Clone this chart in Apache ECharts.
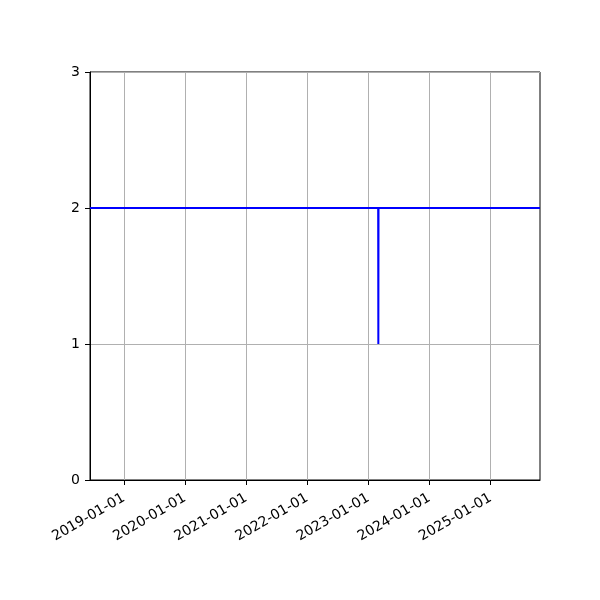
<!DOCTYPE html>
<html>
<head>
<meta charset="utf-8">
<script src="https://cdn.jsdelivr.net/npm/echarts@6/dist/echarts.min.js"></script>
<style>
  html, body { margin: 0; padding: 0; background: #fff; }
  #chart { width: 600px; height: 600px; }
</style>
</head>
<body>
<div id="chart"></div>
<script>
// x range of the axes
const xMin = '2018-06-13'
const xMax = '2025-10-23'

// ticks on the date axis
const tickDates = ['2019-01-01', '2020-01-01', '2021-01-01', '2022-01-01', '2023-01-01', '2024-01-01', '2025-01-01']

// the series: flat at 2 with a one-day drop to 1 early in 2023
const dates = ['2018-06-13', '2023-03-01', '2023-03-02', '2023-03-03', '2025-10-23']
const values = [2, 2, 1, 2, 2]

const yTicks = [0, 1, 2, 3]

const toTime = s => +new Date(s + 'T00:00:00')
const pad = n => (n < 10 ? '0' : '') + n
const fmtDate = v => {
    const d = new Date(v)
    return d.getFullYear() + '-' + pad(d.getMonth() + 1) + '-' + pad(d.getDate())
}

const tickTimes = tickDates.map(toTime)
const seriesData = dates.map((d, i) => [toTime(d), values[i]])

const font = 'DejaVu Sans'
var myChart = echarts.init(document.getElementById('chart'))

var option = {
    animation: false,
    backgroundColor: '#fff',
    grid: {
        left: 90,
        right: 60,
        top: 72,
        bottom: 120,
        show: true,
        borderColor: '#000',
        borderWidth: 1,
        backgroundColor: 'transparent'
    },
    xAxis: {
        type: 'value',
        min: toTime(xMin),
        max: toTime(xMax),
        axisLine: { show: true, onZero: false, lineStyle: { color: '#000', width: 1 } },
        axisTick: {
            show: true,
            inside: false,
            length: 5,
            lineStyle: { color: '#000', width: 1 },
            customValues: tickTimes
        },
        axisLabel: {
            customValues: tickTimes,
            formatter: v => fmtDate(v),
            rotate: 30,
            margin: 17,
            color: '#000',
            fontFamily: font,
            fontSize: 14
        },
        splitLine: { show: true, lineStyle: { color: '#b0b0b0', width: 1 } }
    },
    yAxis: {
        type: 'value',
        min: yTicks[0],
        max: yTicks[yTicks.length - 1],
        interval: 1,
        axisLine: { show: true, lineStyle: { color: '#000', width: 1 } },
        axisTick: { show: true, inside: false, length: 5, lineStyle: { color: '#000', width: 1 } },
        axisLabel: {
            margin: 10,
            color: '#000',
            fontFamily: font,
            fontSize: 14
        },
        splitLine: { show: true, lineStyle: { color: '#b0b0b0', width: 1 } }
    },
    series: [
        {
            type: 'line',
            data: seriesData,
            showSymbol: false,
            symbol: 'none',
            lineStyle: { color: '#0000ff', width: 2 },
            z: 3
        }
    ]
}

myChart.setOption(option)
</script>
</body>
</html>
